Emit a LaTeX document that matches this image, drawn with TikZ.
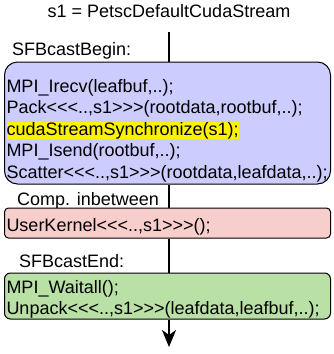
\documentclass[tikz,border=0pt]{standalone}
\usepackage{fontspec}
\setmainfont{Liberation Sans}[Ligatures=TeXOff]
\usetikzlibrary{arrows.meta}
\definecolor{begincol}{HTML}{CCCCFF}
\definecolor{kernelcol}{HTML}{F8CECC}
\definecolor{endcol}{HTML}{B9E0A5}
\setlength{\fboxsep}{0pt}
\tikzset{
  codebox/.style={draw, line width=1pt, text width=322pt, inner xsep=2pt, inner ysep=0pt,
    minimum width=326pt, align=left, font=\fontsize{18}{21.6}\selectfont},
  caption/.style={anchor=base west, inner sep=0pt, font=\fontsize{18}{21.6}\selectfont},
  flow/.style={line width=2pt}
}
\begin{document}
\begin{tikzpicture}[x=1pt,y=-1pt]
\useasboundingbox (0,0) rectangle (333,354);
% the stream and the phase labels
\node[caption, anchor=base] (title) at (169,17) {s1 = PetscDefaultCudaStream};
\node[caption] (beginlabel) at (12,55) {SFBcastBegin:};
\node[caption] (betweenlabel) at (17,205) {Comp. inbetween};
\node[caption] (endlabel) at (19,267) {SFBcastEnd:};
% the three code blocks
\node[codebox, fill=begincol, rounded corners=13pt, text height=30pt, text depth=92pt] (begin) at (167.5,123)
  {MPI\_Irecv(leafbuf,..);\\
   Pack<<<..,s1>>>(rootdata,rootbuf,..);\\
   \colorbox{yellow}{cudaStreamSynchronize(s1);}\\
   MPI\_Isend(rootbuf,..);\\
   Scatter<<<..,s1>>>(rootdata,leafdata,..);};
\node[codebox, fill=kernelcol, rounded corners=4pt, text height=23pt, text depth=7pt] (kernel) at (167.5,223)
  {UserKernel<<<..,s1>>>();};
\node[codebox, fill=endcol, rounded corners=6pt, text height=20pt, text depth=26pt] (finish) at (167.5,296)
  {MPI\_Waitall();\\
   Unpack<<<..,s1>>>(leafdata,leafbuf,..);};
% the time line
\coordinate (head) at (169,32);
\coordinate (tail) at (169,347);
\draw[flow] (head) -- (head |- begin.north);
\draw[flow] (head |- begin.south) -- (head |- kernel.north);
\draw[flow] (head |- kernel.south) -- (head |- finish.north);
\draw[flow, -{Stealth[length=17pt, width=14pt, inset=5pt]}] (head |- finish.south) -- (tail);
\end{tikzpicture}
\end{document}
